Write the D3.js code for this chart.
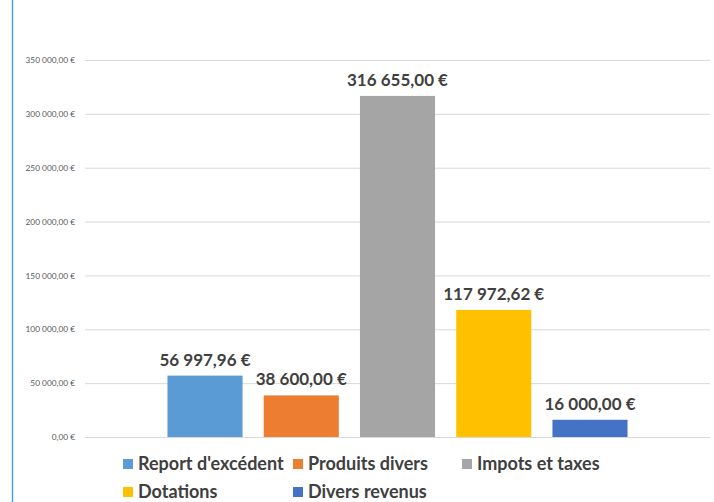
<!DOCTYPE html>
<html><head><meta charset="utf-8">
<script src="https://cdn.jsdelivr.net/npm/d3@7"></script>
<style>body{margin:0;background:#fff;}svg{display:block;}</style>
</head><body>
<svg id="c" width="714" height="502"></svg>
<script>
const categories = ["Report d'excédent","Produits divers","Impots et taxes","Dotations","Divers revenus"];
const values = [56997.96, 38600.00, 316655.00, 117972.62, 16000.00];
const colors = ["#5B9BD5","#ED7D31","#A5A5A5","#FFC000","#4472C4"];
const yTicks = [0,50000,100000,150000,200000,250000,300000,350000];

(function(){
const svg = d3.select("#c");
const fmt = v => {
  const s = v.toFixed(2).split(".");
  return s[0].replace(/\B(?=(\d{3})+(?!\d))/g, "\u00a0") + "," + s[1] + " €";
};

svg.append("line").attr("x1",12.5).attr("x2",12.5).attr("y1",0).attr("y2",502)
  .attr("stroke","#5B9BD5").attr("stroke-width",1.5);

const pL=85, pR=710, pT=60, pB=437;
const y = d3.scaleLinear().domain([0,350000]).range([pB,pT]);
const x = d3.scaleBand().domain(categories).range([pL,pR]).paddingInner(0.22).paddingOuter(0.857);

const yAxis = svg.append("g").attr("transform",`translate(${pL},0)`)
  .call(d3.axisLeft(y).tickValues(yTicks).tickSize(-(pR-pL)).tickPadding(10).tickFormat(fmt));
yAxis.select(".domain").remove();
yAxis.selectAll(".tick line").attr("stroke","#d9d9d9").attr("stroke-width",1);
yAxis.selectAll(".tick text").attr("fill","#595959").attr("font-family","Lato, sans-serif").attr("font-size",8.3);

svg.selectAll("rect.bar").data(values).join("rect").attr("class","bar")
  .attr("x",(d,i)=>x(categories[i])).attr("width",x.bandwidth())
  .attr("y",d=>y(d)).attr("height",d=>pB-y(d))
  .attr("fill",(d,i)=>colors[i]);

svg.selectAll("text.lbl").data(values).join("text").attr("class","lbl")
  .attr("x",(d,i)=>x(categories[i])+x.bandwidth()/2).attr("y",d=>y(d)-10)
  .attr("text-anchor","middle").attr("font-family","Lato, sans-serif").attr("font-weight","bold")
  .attr("font-size",17).attr("fill","#404040").text(d=>fmt(d));

const legPos = [[123,464],[293,464],[462,464],[123,492],[293,492]];
const leg = svg.selectAll("g.leg").data(categories).join("g").attr("class","leg")
  .attr("transform",(d,i)=>`translate(${legPos[i][0]},${legPos[i][1]})`);
leg.append("rect").attr("x",0).attr("y",-5).attr("width",10).attr("height",10).attr("fill",(d,i)=>colors[i]);
leg.append("text").attr("x",15).attr("y",6).attr("font-family","Lato, sans-serif").attr("font-weight","bold")
  .attr("font-size",18).attr("fill","#404040").text(d=>d);
})();
</script>
</body></html>
